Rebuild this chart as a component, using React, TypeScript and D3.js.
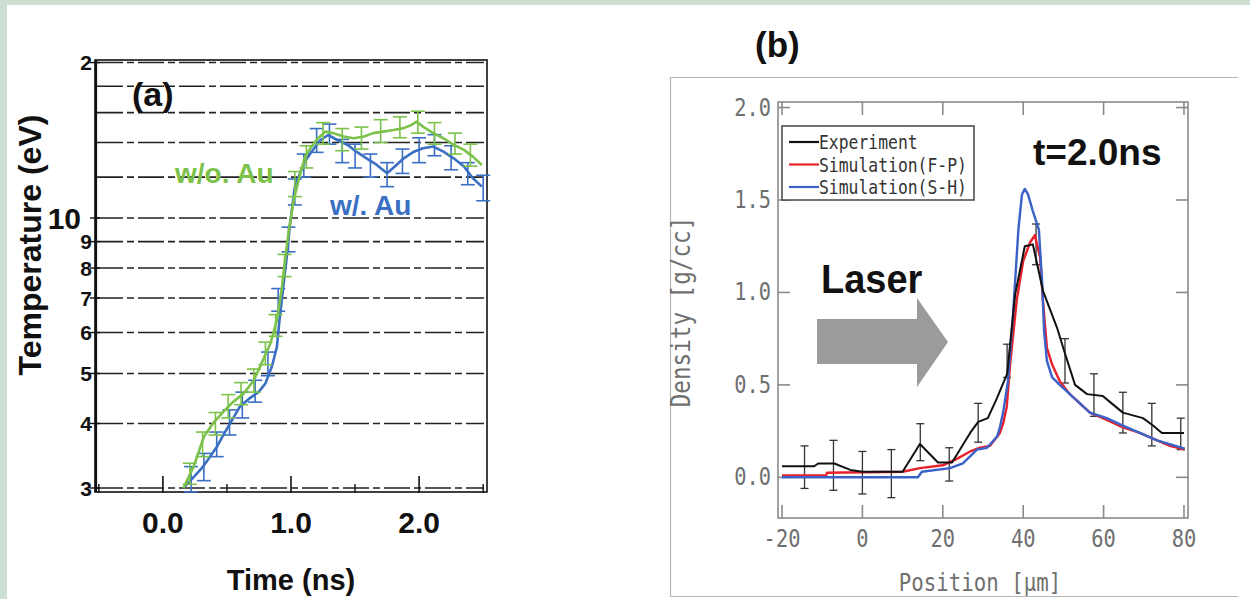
import React from 'react';
import * as d3 from 'd3';

// ---------- Panel (a): temperature vs time ----------
const woAuTime = [0.16, 0.24, 0.32, 0.39, 0.47, 0.55, 0.63, 0.71, 0.77, 0.84, 0.89, 0.93, 0.95, 0.98, 1.02, 1.06, 1.11, 1.16, 1.21, 1.27, 1.33, 1.41, 1.49, 1.57, 1.64, 1.72, 1.80, 1.88, 1.94, 1.98, 2.03, 2.11, 2.19, 2.27, 2.35, 2.42, 2.49];
const woAuTemp = [3.0, 3.3, 3.77, 4.0, 4.21, 4.41, 4.57, 4.85, 5.23, 5.72, 6.34, 7.36, 8.17, 9.34, 10.8, 11.85, 13.15, 13.75, 14.27, 14.7, 14.6, 14.38, 14.27, 14.38, 14.6, 14.7, 14.8, 14.93, 15.14, 15.37, 15.03, 14.6, 14.27, 13.86, 13.55, 13.15, 12.67];

const wAuTime = [0.17, 0.24, 0.30, 0.35, 0.42, 0.48, 0.54, 0.60, 0.68, 0.75, 0.80, 0.85, 0.89, 0.91, 0.94, 0.97, 0.99, 1.03, 1.10, 1.16, 1.23, 1.29, 1.36, 1.44, 1.51, 1.59, 1.67, 1.75, 1.81, 1.88, 1.96, 2.03, 2.11, 2.19, 2.27, 2.35, 2.42, 2.49];
const wAuTemp = [3.02, 3.15, 3.27, 3.40, 3.60, 3.83, 4.06, 4.31, 4.48, 4.61, 4.78, 5.15, 5.63, 6.34, 7.36, 8.54, 9.62, 11.5, 12.76, 13.44, 14.16, 14.48, 14.16, 13.86, 13.44, 13.05, 12.67, 12.21, 12.58, 13.05, 13.44, 13.65, 13.75, 13.44, 13.05, 12.58, 11.94, 11.5];

const woAuErrTime = [0.21, 0.31, 0.41, 0.51, 0.61, 0.71, 0.80, 0.88, 0.95, 1.03, 1.12, 1.25, 1.40, 1.55, 1.70, 1.85, 1.99, 2.12, 2.28, 2.40];
const woAuErrLow = [3.05, 3.45, 3.8, 4.1, 4.35, 4.6, 5.2, 5.9, 7.7, 11.0, 12.5, 13.9, 13.5, 13.6, 14.0, 14.3, 14.6, 13.9, 13.3, 12.6];
const woAuErrHigh = [3.35, 3.85, 4.2, 4.55, 4.8, 5.1, 5.75, 6.5, 8.5, 12.3, 13.8, 15.3, 14.9, 15.0, 15.5, 15.7, 16.1, 15.3, 14.6, 13.9];

const wAuErrTime = [0.22, 0.32, 0.42, 0.52, 0.62, 0.72, 0.82, 0.90, 0.98, 1.03, 1.10, 1.20, 1.30, 1.40, 1.50, 1.62, 1.75, 1.87, 2.00, 2.12, 2.25, 2.38, 2.50];
const wAuErrLow = [2.95, 3.1, 3.45, 3.8, 4.1, 4.4, 4.95, 6.6, 8.6, 10.6, 12.0, 13.4, 13.9, 12.8, 12.5, 12.0, 11.5, 12.2, 12.8, 13.2, 12.4, 11.6, 10.8];
const wAuErrHigh = [3.3, 3.5, 3.85, 4.25, 4.6, 4.85, 5.5, 7.3, 9.6, 11.9, 13.3, 14.9, 15.2, 14.2, 13.9, 13.3, 12.8, 13.6, 14.3, 14.5, 13.8, 12.8, 12.1];

const tempGrid = [3, 4, 5, 6, 7, 8, 9, 10, 12, 14, 16, 18, 20];
const tempTickValues = [3, 4, 5, 6, 7, 8, 9, 10, 20];
const tempTickLabels = ['3', '4', '5', '6', '7', '8', '9', '10', '2'];
const timeMajorTicks = [0, 1, 2];
const timeMajorLabels = ['0.0', '1.0', '2.0'];
const timeMinorTicks = [-0.5, 0.5, 1.5, 2.5];

// ---------- Panel (b): density vs position ----------
const expPos = [-20, -12, -11, -7, -3, 0, 10, 14.3, 18.8, 22.3, 26.8, 28.8, 31.2, 33.5, 36, 38, 40.4, 42.4, 44.9, 48.4, 50.4, 52.9, 55.9, 59.8, 62, 64.8, 69.8, 72.3, 74.5, 80];
const expDen = [0.06, 0.06, 0.075, 0.075, 0.04, 0.03, 0.03, 0.18, 0.08, 0.08, 0.24, 0.30, 0.32, 0.43, 0.56, 0.99, 1.25, 1.26, 1.01, 0.81, 0.67, 0.50, 0.45, 0.44, 0.40, 0.35, 0.32, 0.28, 0.24, 0.24];

const errPos = [-14.4, -7.2, 0, 7.2, 14.4, 21.6, 28.8, 36, 43.2, 50.4, 57.6, 64.8, 72, 79.2];
const errLow = [-0.06, -0.07, -0.09, -0.11, 0.09, -0.02, 0.19, 0.54, 1.15, 0.51, 0.33, 0.24, 0.17, 0.15];
const errHigh = [0.17, 0.20, 0.14, 0.15, 0.29, 0.16, 0.40, 0.72, 1.37, 0.75, 0.56, 0.46, 0.40, 0.32];

const fpPos = [-20, -9, -8.8, 10, 14.3, 20, 23.5, 26.8, 29.3, 31.7, 34.2, 35, 35.9, 36.7, 38.4, 40, 41.7, 42.9, 44.2, 44.9, 45.9, 47.2, 49.1, 51.6, 54.1, 56.6, 60.8, 64.8, 69, 73.3, 76.5, 80.2];
const fpDen = [0.01, 0.01, 0.025, 0.03, 0.05, 0.065, 0.10, 0.14, 0.16, 0.17, 0.24, 0.29, 0.38, 0.6, 0.96, 1.17, 1.27, 1.31, 1.19, 0.96, 0.70, 0.61, 0.52, 0.45, 0.40, 0.35, 0.31, 0.27, 0.24, 0.20, 0.17, 0.15];

const shPos = [-20, 13.8, 14.8, 21.8, 25, 28.5, 31, 33.5, 34.2, 35, 36.2, 37.5, 38.8, 39.7, 40.4, 41.2, 42.4, 43.9, 44.7, 45.2, 45.9, 47.2, 49.1, 51.6, 56.6, 60.8, 64.8, 69, 73.3, 80.2];
const shDen = [0.0, 0.0, 0.03, 0.05, 0.075, 0.15, 0.16, 0.22, 0.27, 0.35, 0.52, 0.89, 1.34, 1.53, 1.56, 1.53, 1.44, 1.34, 1.06, 0.79, 0.63, 0.54, 0.50, 0.45, 0.35, 0.32, 0.28, 0.24, 0.20, 0.155];

const posTicks = [-20, 0, 20, 40, 60, 80];
const posTickLabels = ['-20', '0', '20', '40', '60', '80'];
const denTicks = [0, 0.5, 1.0, 1.5, 2.0];
const denTickLabels = ['0.0', '0.5', '1.0', '1.5', '2.0'];

const legendNames = ['Experiment', 'Simulation(F-P)', 'Simulation(S-H)'];
const legendColors = ['#111111', '#e8202a', '#3a62c8'];

const GREEN = '#7cc24a';
const BLUE = '#3b6fc3';
const ARIAL = '"Liberation Sans", Arial, sans-serif';
const MONO = '"DejaVu Sans Mono", monospace';

export default function App() {
  // panel (a) scales
  const xA = d3.scaleLinear().domain([-0.53, 2.53]).range([95, 487]);
  const yA = d3.scaleLog().domain([3, 10]).range([488, 218]);
  const lineA = d3.line<[number, number]>().x(d => xA(d[0])).y(d => yA(d[1]));
  const woPts = woAuTime.map((t, i) => [t, woAuTemp[i]] as [number, number]);
  const wPts = wAuTime.map((t, i) => [t, wAuTemp[i]] as [number, number]);

  // panel (b) scales
  const xB = d3.scaleLinear().domain([-21, 81]).range([778, 1188]);
  const yB = d3.scaleLinear().domain([-0.22, 2.03]).range([518, 102]);
  const lineB = d3.line<[number, number]>().x(d => xB(d[0])).y(d => yB(d[1]));
  const expPts = expPos.map((p, i) => [p, expDen[i]] as [number, number]);
  const fpPts = fpPos.map((p, i) => [p, fpDen[i]] as [number, number]);
  const shPts = shPos.map((p, i) => [p, shDen[i]] as [number, number]);

  const errA = (times: number[], lows: number[], highs: number[], color: string) =>
    times.map((t, i) => {
      const x = xA(t);
      const y1 = yA(lows[i]);
      const y2 = yA(highs[i]);
      return (
        <g key={`${color}-${i}`} stroke={color} strokeWidth={1.6}>
          <line x1={x} x2={x} y1={y1} y2={y2} />
          <line x1={x - 7} x2={x + 7} y1={y1} y2={y1} />
          <line x1={x - 7} x2={x + 7} y1={y2} y2={y2} />
        </g>
      );
    });

  return (
    <svg width={1250} height={599} style={{ position: 'absolute', left: 0, top: 0 }}>
      <rect x={0} y={0} width={1250} height={599} fill="#cddfd2" />
      <rect x={7} y={5} width={1243} height={594} fill="#ffffff" />

      {/* ===== Panel (a) ===== */}
      <g>
        {tempGrid.map(v => (
          <line key={`g${v}`} x1={97} x2={484} y1={yA(v)} y2={yA(v)} stroke="#222" strokeWidth={1.6} strokeDasharray="26,4,7,4" />
        ))}
        <rect x={95} y={60} width={392} height={432} fill="none" stroke="#111" strokeWidth={1.6} />
        <line x1={96} x2={96} y1={60} y2={492} stroke="#111" strokeWidth={2.2} />
        {tempTickValues.map(v => (
          <line key={`yt${v}`} x1={90} x2={100} y1={yA(v)} y2={yA(v)} stroke="#111" strokeWidth={1.4} />
        ))}
        {timeMajorTicks.map(v => (
          <line key={`xt${v}`} x1={xA(v)} x2={xA(v)} y1={476} y2={493} stroke="#111" strokeWidth={1.6} />
        ))}
        {timeMinorTicks.map(v => (
          <line key={`xm${v}`} x1={xA(v)} x2={xA(v)} y1={484} y2={493} stroke="#111" strokeWidth={1.4} />
        ))}
        {tempTickValues.map((v, i) => {
          const fs = v === 10 ? 30 : 21;
          return (
            <text key={`yl${v}`} x={v === 10 ? 81 : 92} y={yA(v) + fs * 0.36} fontFamily={ARIAL} fontWeight="bold" fontSize={fs} textAnchor="end" fill="#111">
              {tempTickLabels[i]}
            </text>
          );
        })}
        {timeMajorTicks.map((v, i) => (
          <text key={`xl${v}`} x={xA(v)} y={533} fontFamily={ARIAL} fontWeight="bold" fontSize={30} textAnchor="middle" fill="#111">
            {timeMajorLabels[i]}
          </text>
        ))}
        <text x={291} y={590} fontFamily={ARIAL} fontWeight="bold" fontSize={29} textAnchor="middle" fill="#111">Time (ns)</text>
        <text transform="translate(41,245) rotate(-90)" fontFamily={ARIAL} fontWeight="bold" fontSize={32} textAnchor="middle" fill="#111">Temperature (eV)</text>
        <text x={132} y={106} fontFamily={ARIAL} fontWeight="bold" fontSize={34} fill="#111">(a)</text>

        <path d={lineA(wPts) || ''} fill="none" stroke={BLUE} strokeWidth={2.6} strokeLinejoin="round" />
        {errA(wAuErrTime, wAuErrLow, wAuErrHigh, BLUE)}
        <path d={lineA(woPts) || ''} fill="none" stroke={GREEN} strokeWidth={2.6} strokeLinejoin="round" />
        {errA(woAuErrTime, woAuErrLow, woAuErrHigh, GREEN)}

        <text x={175} y={183} fontFamily={ARIAL} fontWeight="bold" fontSize={28} fill={GREEN}>w/o. Au</text>
        <text x={330} y={215} fontFamily={ARIAL} fontWeight="bold" fontSize={28} fill={BLUE}>w/. Au</text>
      </g>

      {/* ===== Panel (b) ===== */}
      <g>
        <text x={755} y={57} fontFamily={ARIAL} fontWeight="bold" fontSize={35} fill="#111">(b)</text>
        <path d="M1238,77.5 H670.5 V596.5 H1238" fill="none" stroke="#b5b5b5" strokeWidth={1.2} />

        <rect x={778} y={102} width={410} height={416} fill="none" stroke="#8a8a8a" strokeWidth={1.6} />
        {posTicks.map(v => (
          <g key={`bx${v}`} stroke="#8a8a8a" strokeWidth={1.6}>
            <line x1={xB(v)} x2={xB(v)} y1={518} y2={505} />
            <line x1={xB(v)} x2={xB(v)} y1={102} y2={115} />
          </g>
        ))}
        {denTicks.map(v => (
          <g key={`by${v}`} stroke="#8a8a8a" strokeWidth={1.6}>
            <line x1={778} x2={790} y1={yB(v)} y2={yB(v)} />
            <line x1={1188} x2={1176} y1={yB(v)} y2={yB(v)} />
          </g>
        ))}
        {posTicks.map((v, i) => (
          <text key={`bxl${v}`} transform={`translate(${xB(v)},547) scale(0.85,1)`} fontFamily={MONO} fontSize={24} textAnchor="middle" fill="#6f6f6f">
            {posTickLabels[i]}
          </text>
        ))}
        {denTicks.map((v, i) => (
          <text key={`byl${v}`} transform={`translate(771,${yB(v) + 8}) scale(0.85,1)`} fontFamily={MONO} fontSize={24} textAnchor="end" fill="#6f6f6f">
            {denTickLabels[i]}
          </text>
        ))}
        <text transform="translate(980,591) scale(0.83,1)" fontFamily={MONO} fontSize={25} textAnchor="middle" fill="#6f6f6f">Position [μm]</text>
        <text transform="translate(690,312) rotate(-90) scale(0.87,1)" fontFamily={MONO} fontSize={26} textAnchor="middle" fill="#6f6f6f">Density [g/cc]</text>

        {/* Laser arrow */}
        <path d="M817,319 H917 V298 L948,342 L917,387 V364 H817 Z" fill="#9b9b9b" />
        <text transform="translate(821,293) scale(0.95,1)" fontFamily={ARIAL} fontWeight="bold" fontSize={40} fill="#111">Laser</text>
        <text x={1033} y={165} fontFamily={ARIAL} fontWeight="bold" fontSize={37} fill="#111">t=2.0ns</text>

        {/* error bars */}
        {errPos.map((p, i) => (
          <g key={`eb${i}`} stroke="#333" strokeWidth={1.3}>
            <line x1={xB(p)} x2={xB(p)} y1={yB(errLow[i])} y2={yB(errHigh[i])} />
            <line x1={xB(p) - 4} x2={xB(p) + 4} y1={yB(errLow[i])} y2={yB(errLow[i])} />
            <line x1={xB(p) - 4} x2={xB(p) + 4} y1={yB(errHigh[i])} y2={yB(errHigh[i])} />
          </g>
        ))}
        <path d={lineB(fpPts) || ''} fill="none" stroke={legendColors[1]} strokeWidth={2.4} strokeLinejoin="round" />
        <path d={lineB(shPts) || ''} fill="none" stroke={legendColors[2]} strokeWidth={2.4} strokeLinejoin="round" />
        <path d={lineB(expPts) || ''} fill="none" stroke={legendColors[0]} strokeWidth={2} strokeLinejoin="round" />

        {/* legend */}
        <rect x={782} y={126} width={192} height={74} fill="#ffffff" stroke="#444" strokeWidth={1.5} />
        {legendNames.map((name, i) => {
          const ly = 142 + i * 22.5;
          return (
            <g key={name}>
              <line x1={789} x2={819} y1={ly} y2={ly} stroke={legendColors[i]} strokeWidth={2.2} />
              <text transform={`translate(819,${ly + 7}) scale(0.82,1)`} fontFamily={MONO} fontSize={20} fill="#333">{name}</text>
            </g>
          );
        })}
      </g>
    </svg>
  );
}
